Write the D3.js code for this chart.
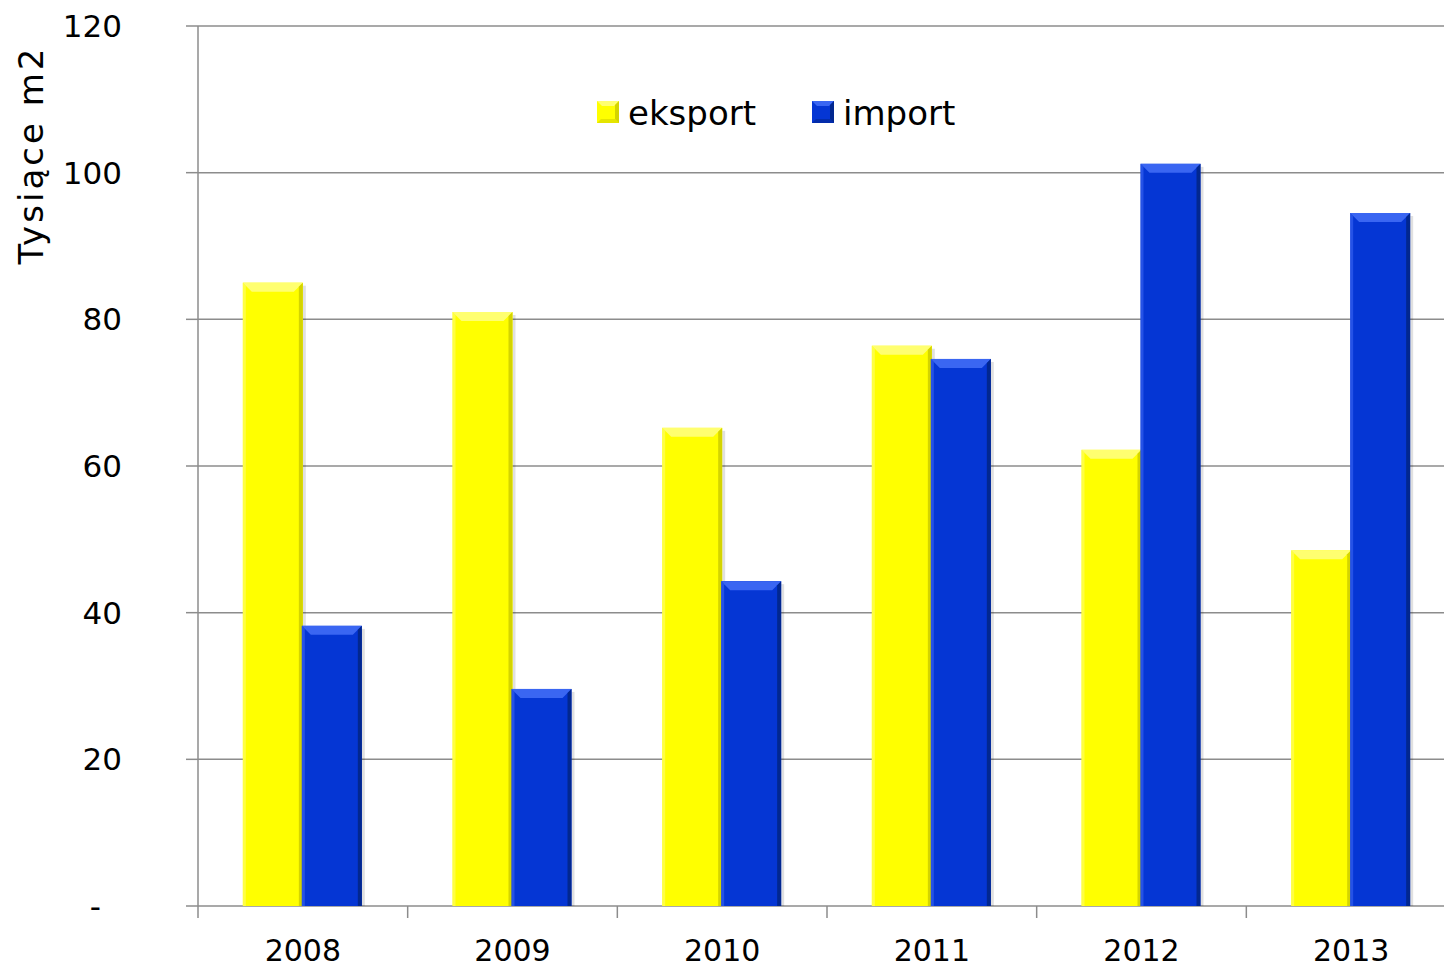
<!DOCTYPE html>
<html>
<head>
<meta charset="utf-8">
<script src="https://cdn.jsdelivr.net/npm/d3@7"></script>
<style>
  body { margin: 0; background: #fff; }
  svg text { font-family: "Century Gothic", "DejaVu Sans", sans-serif; fill: #000; }
</style>
</head>
<body>
<svg id="chart" width="1444" height="970"></svg>
<script>
// data
var years = ['2008', '2009', '2010', '2011', '2012', '2013'];
var eksport = [85.0, 81.0, 65.2, 76.4, 62.2, 48.5];
var importVals = [38.2, 29.6, 44.3, 74.6, 101.2, 94.5];
var yTicks = [0, 20, 40, 60, 80, 100, 120];
var seriesNames = ['eksport', 'import'];

var margin = {top: 26, left: 198, bottom: 64};
var width = 1258, height = 880;

var svg = d3.select('#chart');
var g = svg.append('g').attr('transform', 'translate(' + margin.left + ',' + margin.top + ')');

var x = d3.scaleBand().domain(years).range([0, width]).paddingInner(0).paddingOuter(0);
var y = d3.scaleLinear().domain([0, 120]).range([height, 0]);
var barW = 60;

var colors = {
  eksport: {base: '#ffff00', light: '#ffff70', dark: '#d4d400'},
  import: {base: '#0536d4', light: '#3a66f2', dark: '#02278f'}
};

// gridlines
g.selectAll('.grid').data(yTicks.slice(1)).enter().append('line')
    .attr('x1', 0).attr('x2', 1246)
    .attr('y1', function(d) { return y(d); }).attr('y2', function(d) { return y(d); })
    .style('stroke', '#8c8c8c').style('stroke-width', 1.5);

// y axis
g.append('line').attr('x1', 0).attr('x2', 0).attr('y1', 0).attr('y2', height)
    .style('stroke', '#8c8c8c').style('stroke-width', 1.5);
g.selectAll('.ytick').data(yTicks).enter().append('line')
    .attr('x1', -12).attr('x2', 0)
    .attr('y1', function(d) { return y(d); }).attr('y2', function(d) { return y(d); })
    .style('stroke', '#8c8c8c').style('stroke-width', 1.5);
g.selectAll('.ylab').data(yTicks).enter().append('text')
    .attr('x', function(d) { return d === 0 ? -97 : -76; })
    .attr('y', function(d) { return y(d) + 11; })
    .attr('text-anchor', 'end')
    .style('font-size', '31px')
    .text(function(d) { return d === 0 ? '-' : d; });

// x axis
g.append('line').attr('x1', 0).attr('x2', 1246).attr('y1', height).attr('y2', height)
    .style('stroke', '#8c8c8c').style('stroke-width', 1.5);
g.selectAll('.xtick').data(years).enter().append('line')
    .attr('x1', function(d) { return x(d); }).attr('x2', function(d) { return x(d); })
    .attr('y1', height).attr('y2', height + 12)
    .style('stroke', '#8c8c8c').style('stroke-width', 1.5);
g.selectAll('.xlab').data(years).enter().append('text')
    .attr('x', function(d) { return x(d) + x.bandwidth() / 2; })
    .attr('y', height + 55)
    .attr('text-anchor', 'middle')
    .style('font-size', '30px')
    .text(function(d) { return d; });

// bars with bevel
function drawBar(sel, x0, val, c) {
    var x1 = x0 + barW, yt = y(val), yb = y(0), b = 9;
    // shadow
    sel.append('rect').attr('x', x1).attr('y', yt + 3).attr('width', 3).attr('height', yb - yt - 3)
        .style('fill', '#000').style('opacity', 0.12);
    sel.append('rect').attr('x', x0).attr('y', yt).attr('width', barW).attr('height', yb - yt)
        .style('fill', c.base);
    sel.append('polygon')
        .attr('points', [[x0, yt], [x1, yt], [x1 - b, yt + b], [x0 + b, yt + b]].join(' '))
        .style('fill', c.light);
    sel.append('polygon')
        .attr('points', [[x0, yt], [x0 + 3, yt + 3], [x0 + 3, yb], [x0, yb]].join(' '))
        .style('fill', c.light).style('opacity', 0.6);
    sel.append('polygon')
        .attr('points', [[x1, yt], [x1 - 4, yt + 4], [x1 - 4, yb], [x1, yb]].join(' '))
        .style('fill', c.dark);
}

var bars = g.append('g');
years.forEach(function(yr, i) {
    var cx = x(yr) + x.bandwidth() / 2;
    drawBar(bars, cx - barW, eksport[i], colors.eksport);
    drawBar(bars, cx - 1, importVals[i], colors.import);
});

// y title
svg.append('text')
    .attr('transform', 'translate(43,155) rotate(-90)')
    .attr('text-anchor', 'middle')
    .style('font-size', '34px')
    .style('letter-spacing', '3px')
    .text('Tysiące m2');

// legend
var legendX = [597, 812];
seriesNames.forEach(function(name, i) {
    var c = colors[name];
    var lg = svg.append('g').attr('transform', 'translate(' + legendX[i] + ',101)');
    lg.append('rect').attr('width', 22).attr('height', 22).style('fill', c.base);
    lg.append('polygon').attr('points', '0,0 22,0 17,5 5,5').style('fill', c.light);
    lg.append('polygon').attr('points', '22,0 22,22 18,18 18,4').style('fill', c.dark);
    lg.append('polygon').attr('points', '0,22 22,22 18,18 4,18').style('fill', c.dark).style('opacity', 0.6);
    lg.append('text').attr('x', 31).attr('y', 24).style('font-size', '34px').text(name);
});
</script>
</body>
</html>
